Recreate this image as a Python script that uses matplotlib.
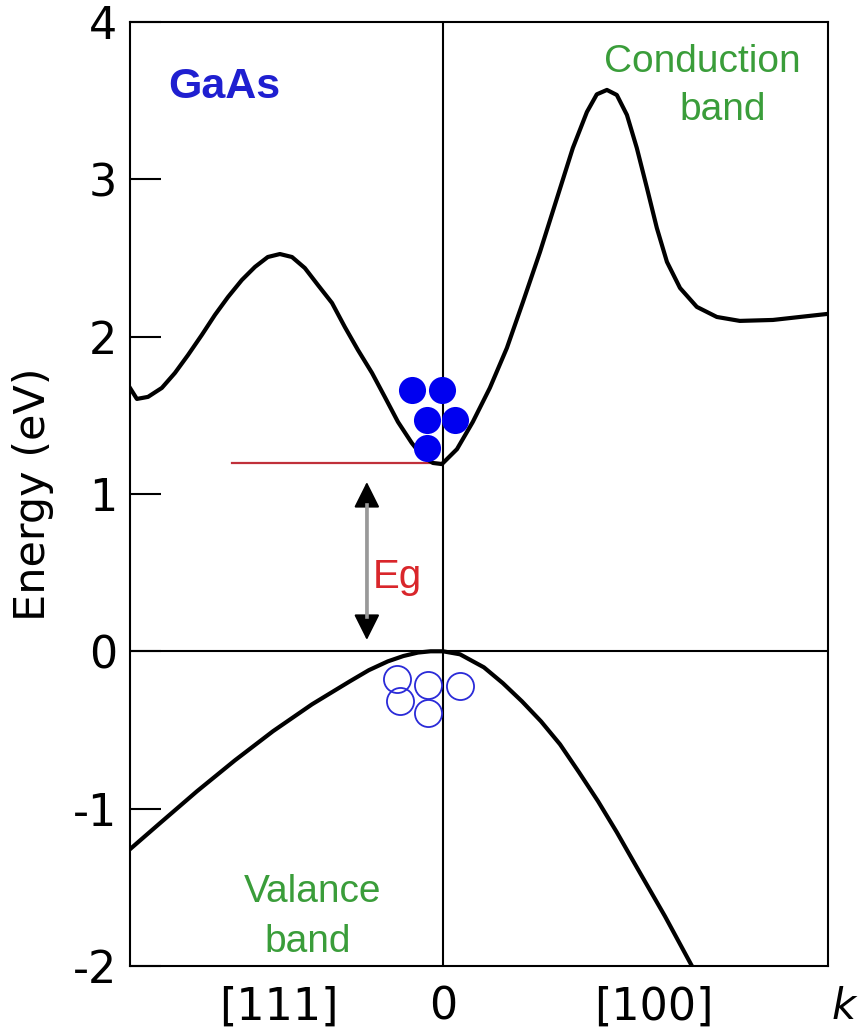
import matplotlib
matplotlib.use("Agg")
import matplotlib.pyplot as plt
from matplotlib.patches import FancyArrowPatch
import matplotlib.transforms as mtransforms

# wave vector positions ([100] point = 1) and energies (eV)
cond_k = [-1.267, -1.239, -1.194, -1.138, -1.085, -1.032, -0.976, -0.923, -0.870,
          -0.814, -0.761, -0.709, -0.660, -0.611, -0.559, -0.506, -0.449, -0.397,
          -0.344, -0.287, -0.235, -0.182, -0.126, -0.081, -0.040, -0.004, 0.057,
          0.121, 0.190, 0.259, 0.324, 0.393, 0.462, 0.526, 0.583, 0.623, 0.664,
          0.704, 0.745, 0.785, 0.826, 0.866, 0.907, 0.960, 1.028, 1.109, 1.202,
          1.336, 1.445, 1.555]
cond_E = [1.674, 1.604, 1.617, 1.674, 1.769, 1.883, 2.011, 2.138, 2.252,
          2.360, 2.443, 2.506, 2.525, 2.506, 2.436, 2.328, 2.214, 2.061,
          1.915, 1.769, 1.616, 1.458, 1.324, 1.235, 1.197, 1.190, 1.285,
          1.458, 1.674, 1.928, 2.220, 2.538, 2.881, 3.199, 3.428, 3.540, 3.568,
          3.536, 3.409, 3.199, 2.945, 2.691, 2.475, 2.309, 2.189, 2.125, 2.100,
          2.106, 2.125, 2.144]

val_k = [-1.267, -1.146, -0.996, -0.842, -0.688, -0.530, -0.377, -0.300, -0.223,
         -0.160, -0.101, -0.050, 0.0, 0.069, 0.166, 0.243, 0.320, 0.397, 0.474,
         0.551, 0.628, 0.704, 0.785, 0.899, 1.008]
val_E = [-1.258, -1.093, -0.890, -0.693, -0.508, -0.337, -0.191, -0.120, -0.064,
         -0.030, -0.008, 0.0, 0.0, -0.019, -0.102, -0.203, -0.318, -0.445, -0.591,
         -0.769, -0.953, -1.150, -1.373, -1.684, -2.0]

electron_k = [-0.126, -0.004, -0.065, 0.049, -0.065]
electron_E = [1.661, 1.661, 1.470, 1.470, 1.292]

hole_k = [-0.186, -0.061, 0.069, -0.174, -0.061]
hole_E = [-0.178, -0.216, -0.222, -0.318, -0.394]

cb_min = 1.197
eg_k = -0.308
eg_bottom, eg_top = 0.072, 1.076

x_ticks = [-0.664, 0.0, 0.854]
x_labels = ["[111]", "0", "[100]"]
y_ticks = [-2, -1, 0, 1, 2, 3, 4]

green = "#3a9d3a"
label_font = ["Liberation Sans", "DejaVu Sans"]

fig = plt.figure(figsize=(8.59, 10.36), dpi=100)
ax = fig.add_axes([0.1513, 0.0676, 0.8126, 0.9112])
ax.set_xlim(-1.267, 1.559)
ax.set_ylim(-2, 4)

for s in ax.spines.values():
    s.set_linewidth(1.5)

ax.axhline(0, color="black", lw=1.5, zorder=1)
ax.axvline(0, color="black", lw=1.5, zorder=1)

ax.plot(cond_k, cond_E, color="black", lw=3, solid_joinstyle="round", zorder=3)
ax.plot(val_k, val_E, color="black", lw=3, solid_joinstyle="round", zorder=3)

# conduction band minimum level
ax.plot([-0.854, 0.0], [cb_min, cb_min], color="#c0303a", lw=1.6, zorder=2)

ax.plot(electron_k, electron_E, "o", ms=19.5, color="#0000f0", mec="none", zorder=4)
ax.plot(hole_k, hole_E, "o", ms=19.5, mfc="none", mec="#2a2ad8", mew=1.3, zorder=4)

# band gap arrow: black heads, grey shaft
arr = FancyArrowPatch((eg_k, eg_bottom), (eg_k, eg_top),
                      arrowstyle="<|-|>,head_length=0.8,head_width=0.4",
                      mutation_scale=20, color="black", lw=1.5,
                      shrinkA=0, shrinkB=0, zorder=3)
ax.add_patch(arr)
ax.plot([eg_k, eg_k], [0.215, 0.933], color="#999999", lw=2.6, zorder=4)
ax.text(-0.186, 0.402, "Eg", color="#d9262b", fontsize=29, ha="center",
        va="baseline", family=label_font)

ax.text(-0.885, 3.517, "GaAs", color="#1f1fd0", fontsize=31, fontweight="bold",
        ha="center", va="baseline", family=label_font)
ax.text(1.049, 3.682, "Conduction", color=green, fontsize=28, ha="center",
        va="baseline", family=label_font)
ax.text(1.134, 3.377, "band", color=green, fontsize=28, ha="center",
        va="baseline", family=label_font)
ax.text(-0.526, -1.593, "Valance", color=green, fontsize=28, ha="center",
        va="baseline", family=label_font)
ax.text(-0.547, -1.911, "band", color=green, fontsize=28, ha="center",
        va="baseline", family=label_font)

ax.set_yticks(y_ticks)
ax.set_yticklabels([str(v) for v in y_ticks])
ax.tick_params(axis="y", direction="in", length=22, width=1.5, labelsize=32, pad=9)
ax.set_xticks(x_ticks)
ax.set_xticklabels(x_labels)
ax.tick_params(axis="x", length=0, labelsize=32, pad=14)

ax.set_ylabel("Energy (eV)", fontsize=31)
ax.yaxis.set_label_coords(-0.109, 0.5)

trans = mtransforms.blended_transform_factory(ax.transData, ax.transAxes)
ax.text(1.623, -0.0434, "k", transform=trans, fontsize=30, style="italic",
        ha="center", va="center", clip_on=False)

fig.savefig("out.png", dpi=100)
